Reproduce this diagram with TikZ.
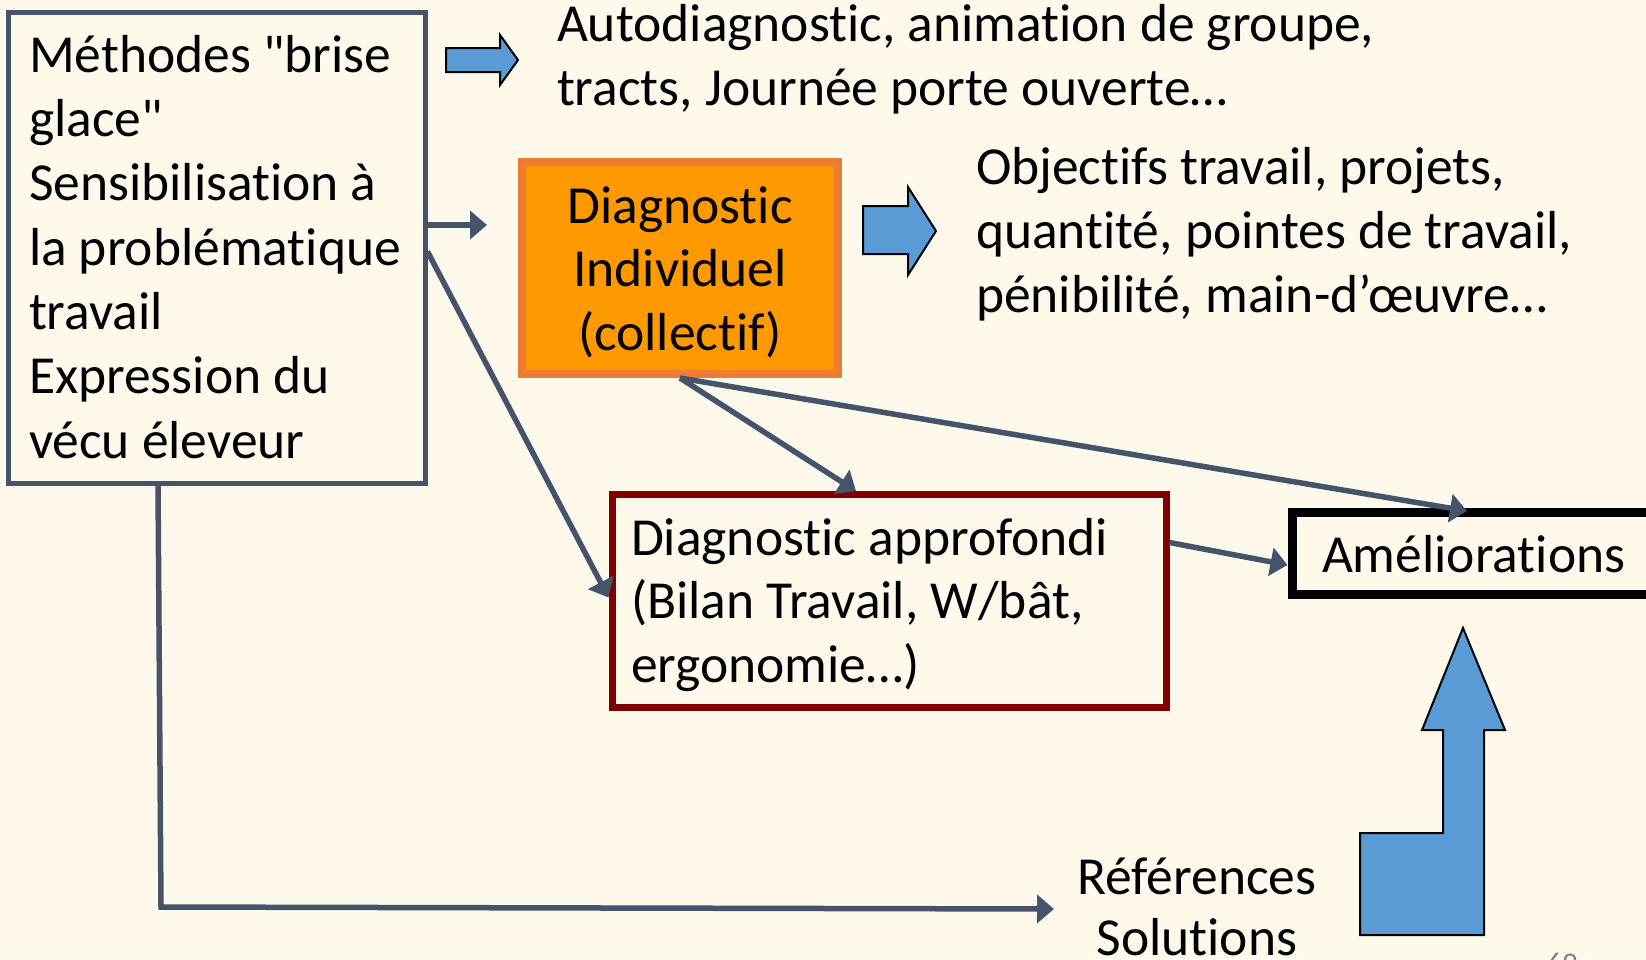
\documentclass[tikz,border=0pt]{standalone}
\usepackage{fontspec}
\setmainfont{Carlito}[Ligatures={NoCommon,TeXOff}]
\usetikzlibrary{arrows.meta,calc}
\definecolor{bgc}{HTML}{FFF9EC}
\definecolor{connc}{HTML}{44546A}
\definecolor{bluc}{HTML}{5B9BD5}
\definecolor{orfill}{HTML}{FF9900}
\definecolor{ordraw}{HTML}{ED7D31}
\definecolor{darkred}{HTML}{800000}
\begin{document}
\begin{tikzpicture}[x=1pt,y=-1pt,
  txt/.style={font=\fontsize{53.5}{64}\selectfont, inner sep=0pt, outer sep=0pt, align=left, anchor=base west},
  conn/.style={draw=connc, line width=5.5pt, -{Triangle[length=17pt,width=28pt]}},
  bigarrow/.style={fill=bluc, draw=black, line width=2pt, line join=miter},
  box/.style={rectangle, inner sep=0pt}]
\useasboundingbox (0,0) rectangle (1646,959);
\clip (0,0) rectangle (1646,959);
\fill[bgc] (0,0) rectangle (1646,959);

% boxes
\node[box, draw=connc, line width=5pt, minimum width=417pt, minimum height=471pt] (methods) at (216.5,247.5) {};
\node[box, draw=ordraw, fill=orfill, line width=8pt, minimum width=316pt, minimum height=212pt] (indiv) at (680,268) {};
\node[box, draw=darkred, line width=7pt, minimum width=554pt, minimum height=213pt] (deep) at (889,600.5) {};
\node[box, draw=black, line width=9pt, minimum width=368pt, minimum height=82pt] (amel) at (1476,553) {};

% texts (base anchor = baseline of the last line)
\node[txt, font=\fontsize{53.5}{64.3}\selectfont] (methodstxt) at (29,458) {Méthodes "brise\\glace"\\Sensibilisation à\\la problématique\\travail\\Expression du\\vécu éleveur};
\node[txt] (autotxt) at (557,105) {Autodiagnostic, animation de groupe,\\tracts, Journée porte ouverte…};
\node[txt] (objtxt) at (976,312) {Objectifs travail, projets,\\quantité, pointes de travail,\\pénibilité, main-d’œuvre…};
\node[txt, align=center, anchor=base, font=\fontsize{53.5}{63.5}\selectfont] (indivtxt) at (680,350) {Diagnostic\\Individuel\\(collectif)};
\node[txt, font=\fontsize{53.5}{63.5}\selectfont] (deeptxt) at (631,682) {Diagnostic approfondi\\(Bilan Travail, W/bât,\\ergonomie…)};
\node[txt] (ameltxt) at (1322,572) {Améliorations};
\node[txt, align=center, anchor=base, font=\fontsize{53.5}{61}\selectfont] (reftxt) at (1197,955) {Références\\Solutions};
\node[txt, anchor=north, text=gray, font=\fontsize{30}{36}\selectfont] (pagenum) at (1562,953) {69};

% block arrows
\draw[bigarrow] (446,48) -- (500,48) -- (500,35) -- (518,60) -- (500,85) -- (500,72) -- (446,72) -- cycle;
\draw[bigarrow] (863,206) -- (908,206) -- (908,187) -- (936,231) -- (908,275) -- (908,254) -- (863,254) -- cycle;
\draw[bigarrow] (1463,628) -- (1505,730) -- (1484,730) -- (1484,935) -- (1360,935) -- (1360,833) -- (1443,833) -- (1443,730) -- (1422,730) -- cycle;

% connectors
\coordinate (t1) at (487,225);
\coordinate (t3) at (856,491);
\coordinate (t4) at (1467,511);
\coordinate (c6) at (161,907);
\coordinate (t6) at (1054,909);
\draw[conn] (methods.east |- t1) -- (t1);
\draw[conn] ([yshift=-4pt]methods.east) -- ([yshift=3pt]deep.west);
\draw[conn] (indiv.south) -- (t3);
\draw[conn] (indiv.south) -- (t4);
\draw[conn] ([yshift=-52pt]deep.north east) -- ([yshift=-12pt]amel.west);
\draw[conn] ([xshift=-58.5pt]methods.south) -- (c6) -- (t6);
\end{tikzpicture}
\end{document}
